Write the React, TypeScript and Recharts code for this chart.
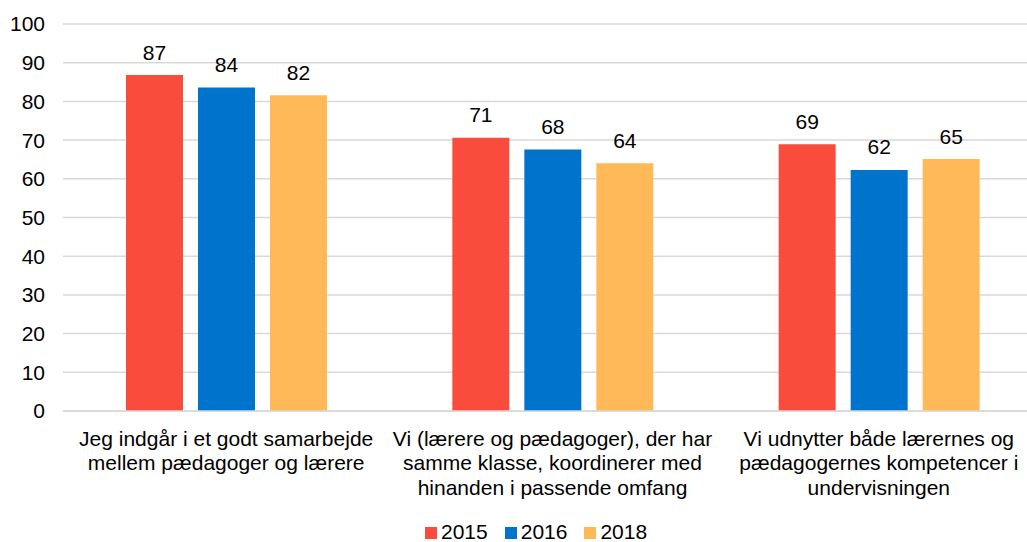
import { Bar, BarChart, CartesianGrid, LabelList, XAxis, YAxis } from 'recharts'

const categories = [
  'Jeg indgår i et godt samarbejde\nmellem pædagoger og lærere',
  'Vi (lærere og pædagoger), der har\nsamme klasse, koordinerer med\nhinanden i passende omfang',
  'Vi udnytter både lærernes og\npædagogernes kompetencer i\nundervisningen',
]
const values2015 = [86.8, 70.6, 68.9]
const values2016 = [83.6, 67.6, 62.3]
const values2018 = [81.6, 64.0, 65.1]
const yTicks = [0, 10, 20, 30, 40, 50, 60, 70, 80, 90, 100]

const series = [
  { key: 'y2015', name: '2015', color: '#FA4C3C' },
  { key: 'y2016', name: '2016', color: '#0073CC' },
  { key: 'y2018', name: '2018', color: '#FFB958' },
]

const data = categories.map((name, i) => ({
  name,
  y2015: values2015[i],
  y2016: values2016[i],
  y2018: values2018[i],
}))

const FONT = '"Liberation Sans", Arial, sans-serif'

function CategoryTick({ x, y, payload }: { x?: number; y?: number; payload?: { value: string } }) {
  const lines = (payload?.value ?? '').split('\n')
  return (
    <text x={x} y={y} textAnchor="middle" fill="#000" fontSize={21} fontFamily={FONT}>
      {lines.map((line, i) => (
        <tspan key={i} x={x} dy={i === 0 ? 26.5 : 24.5}>
          {line}
        </tspan>
      ))}
    </text>
  )
}

function ChartLegend() {
  return (
    <div
      style={{
        position: 'absolute',
        left: 425,
        top: 522,
        display: 'flex',
        gap: 17,
        fontFamily: FONT,
        fontSize: 21,
        lineHeight: '19px',
      }}
    >
      {series.map((s) => (
        <div key={s.key} style={{ display: 'flex', alignItems: 'center' }}>
          <span style={{ width: 12, height: 12, background: s.color, marginRight: 4, marginTop: 3, display: 'inline-block' }} />
          <span>{s.name}</span>
        </div>
      ))}
    </div>
  )
}

export default function App() {
  return (
    <div style={{ position: 'absolute', left: 0, top: 0, width: 1027, height: 542, overflow: 'hidden', background: '#fff' }}>
      <BarChart
        width={1045}
        height={542}
        data={data}
        margin={{ top: 24, right: 3, bottom: 0, left: 0 }}
        barGap={15}
        barSize={57}
      >
        <CartesianGrid vertical={false} stroke="#D9D9D9" strokeWidth={1.5} />
        <XAxis
          dataKey="name"
          height={131}
          axisLine={{ stroke: '#D9D9D9', strokeWidth: 1.5 }}
          tickLine={false}
          interval={0}
          tick={<CategoryTick />}
        />
        <YAxis
          width={63}
          domain={[0, 100]}
          ticks={yTicks}
          axisLine={false}
          tickLine={false}
          tickMargin={12}
          tick={{ fill: '#000', fontSize: 21, fontFamily: FONT }}
        />
        {series.map((s) => (
          <Bar key={s.key} dataKey={s.key} name={s.name} fill={s.color} isAnimationActive={false}>
            <LabelList
              dataKey={s.key}
              position="top"
              offset={15.5}
              formatter={(v: number) => Math.round(v)}
              style={{ fill: '#000', fontSize: 21, fontFamily: FONT }}
            />
          </Bar>
        ))}
      </BarChart>
      <ChartLegend />
    </div>
  )
}
